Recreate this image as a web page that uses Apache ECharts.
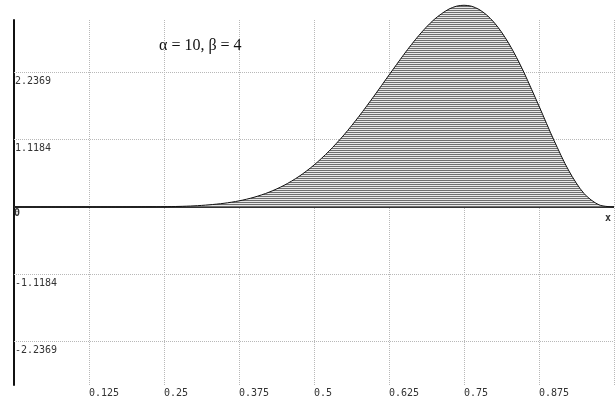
<!DOCTYPE html>
<html>
<head>
<meta charset="utf-8">
<script src="https://cdn.jsdelivr.net/npm/echarts@6/dist/echarts.min.js"></script>
<style>html,body{margin:0;padding:0;background:#fff;}#c{width:615px;height:402px;}</style>
</head>
<body>
<div id="c"></div>
<script>
// Values (density curve, alpha = 10, beta = 4)
var xs = [0, 0.025, 0.05, 0.075, 0.1, 0.125, 0.15, 0.175, 0.2, 0.225, 0.25, 0.275, 0.3, 0.325, 0.35, 0.375, 0.4, 0.425, 0.45, 0.475, 0.5, 0.525, 0.55, 0.575, 0.6, 0.625, 0.65, 0.6625, 0.675, 0.6875, 0.7, 0.7125, 0.725, 0.7375, 0.75, 0.7625, 0.775, 0.7875, 0.8, 0.8125, 0.825, 0.8375, 0.85, 0.875, 0.9, 0.925, 0.95, 0.975, 1];
var ys = [0, 0, 0, 0, 0, 0, 0, 0.0001, 0.0008, 0.002, 0.0046, 0.0098, 0.019, 0.036, 0.062, 0.102, 0.162, 0.246, 0.36, 0.509, 0.698, 0.929, 1.2, 1.509, 1.845, 2.195, 2.54, 2.703, 2.856, 2.995, 3.116, 3.214, 3.292, 3.34, 3.355, 3.339, 3.286, 3.196, 3.071, 2.909, 2.714, 2.488, 2.236, 1.679, 1.108, 0.598, 0.225, 0.036, 0];
var xTickLabels = ['0.125', '0.25', '0.375', '0.5', '0.625', '0.75', '0.875'];
var yTickValues = [2.2369, 1.1184, -1.1184, -2.2369];
var yTickLabels = ['2.2369', '1.1184', '-1.1184', '-2.2369'];
var titleText = '\u03b1 = 10, \u03b2 = 4';

var chart = echarts.init(document.getElementById('c'));

// hatch pattern for the filled area
var pat = document.createElement('canvas');
pat.width = 2; pat.height = 2;
var pc = pat.getContext('2d');
pc.fillStyle = '#e8e8e8'; pc.fillRect(0, 0, 2, 2);
pc.fillStyle = '#6e6e6e'; pc.fillRect(0, 0, 2, 1);

var mono = 'DejaVu Sans Mono';
var lblStyle = { fontFamily: mono, fontSize: 10, color: '#333' };

var gridLines = yTickValues.map(function (v, i) {
  return {
    yAxis: v,
    lineStyle: { type: 'dotted', color: '#b8b8b8', width: 1 },
    label: Object.assign({ show: true, position: 'insideStartBottom', formatter: yTickLabels[i], distance: [1, 4], padding: 0 }, lblStyle)
  };
});
gridLines.push({
  yAxis: 0,
  lineStyle: { type: 'solid', color: '#333', width: 2 },
  label: Object.assign({ show: true, position: 'insideStartBottom', formatter: '0', distance: [0, 1], padding: 0 }, lblStyle, { fontWeight: 'bold' })
});
gridLines.push({
  yAxis: 0,
  lineStyle: { type: 'solid', color: '#333', width: 2 },
  label: Object.assign({ show: true, position: 'insideEndBottom', formatter: 'x', distance: [3, 6], padding: 0 }, lblStyle, { fontWeight: 'bold' })
});

chart.setOption({
  animation: false,
  backgroundColor: '#fff',
  title: {
    text: titleText, left: 154, top: 33,
    textStyle: { fontFamily: 'Liberation Serif', fontSize: 16, fontWeight: 'normal', color: '#111' }
  },
  grid: { left: 14, right: 1, top: 20, bottom: 17 },
  xAxis: {
    type: 'value', min: 0, max: 1, interval: 0.125,
    axisLine: { show: false }, axisTick: { show: false },
    splitLine: { show: true, lineStyle: { type: 'dotted', color: '#b8b8b8', width: 1 } },
    axisLabel: Object.assign({
      show: true, align: 'left', margin: 3, showMinLabel: false, showMaxLabel: false,
      formatter: function (v) { var i = Math.round(v / 0.125) - 1; return xTickLabels[i] || ''; }
    }, lblStyle)
  },
  yAxis: {
    type: 'value', min: -2.96, max: 3.11,
    axisLine: { show: true, onZero: false, lineStyle: { color: '#111', width: 2 } },
    axisTick: { show: false }, axisLabel: { show: false }, splitLine: { show: false }
  },
  series: [{
    type: 'line',
    data: xs.map(function (x, i) { return [x, ys[i]]; }),
    smooth: 0.3,
    symbol: 'none',
    clip: false,
    lineStyle: { color: '#111', width: 1 },
    areaStyle: { color: { image: pat, repeat: 'repeat' }, opacity: 1 },
    z: 3,
    markLine: { silent: true, symbol: ['none', 'none'], animation: false, z: 2, data: gridLines }
  }]
});
</script>
</body>
</html>
